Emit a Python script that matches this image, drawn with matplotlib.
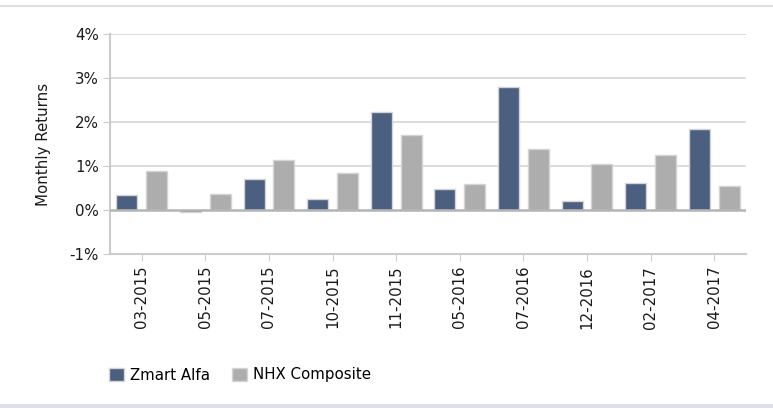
"""Monthly returns: Zmart Alfa vs NHX Composite"""

import matplotlib.pyplot as plt
import numpy as np

plt.rcParams["font.family"] = ["DejaVu Sans"]

months = ["03-2015", "05-2015", "07-2015", "10-2015", "11-2015",
          "05-2016", "07-2016", "12-2016", "02-2017", "04-2017"]
zmart = [0.33, -0.04, 0.70, 0.24, 2.22, 0.48, 2.80, 0.21, 0.61, 1.83]
nhx = [0.89, 0.37, 1.13, 0.83, 1.71, 0.58, 1.38, 1.04, 1.26, 0.55]

blue = "#4b5f80"
grey = "#adadad"
edge = "#d4d4d4"

fig = plt.figure(figsize=(7.73, 4.08), dpi=100)
ax = fig.add_axes([110 / 773, 1 - 254 / 408, 636 / 773, 220 / 408])

x = np.arange(len(months))
w = 0.33
ax.bar(x - 0.235, zmart, w, color=blue, edgecolor=edge, linewidth=1, label="Zmart Alfa", zorder=3)
ax.bar(x + 0.235, nhx, w, color=grey, edgecolor=edge, linewidth=1, label="NHX Composite", zorder=3)

ax.set_xlim(-0.5, len(months) - 0.5)
ax.set_ylim(-1, 4)
ax.set_yticks([-1, 0, 1, 2, 3, 4])
ax.set_yticklabels(["-1%", "0%", "1%", "2%", "3%", "4%"])
ax.set_xticks(x)
ax.set_xticklabels(months, rotation=90)

for v in [1, 2, 3, 4]:
    ax.axhline(v, color="#d6d6d6", linewidth=1.2, zorder=1)
ax.axhline(0, color="#b4b4b4", linewidth=1.8, zorder=4)

for s in ["top", "right"]:
    ax.spines[s].set_visible(False)
for s in ["left", "bottom"]:
    ax.spines[s].set_color("#cccccc")
    ax.spines[s].set_linewidth(1.5)

ax.tick_params(axis="both", colors="#cccccc", labelcolor="#1a1a1a", labelsize=10.8, length=5)
ax.tick_params(axis="y", pad=3)
ax.set_ylabel("Monthly Returns", fontsize=10.8, color="#1a1a1a", labelpad=13)

# borders of the panel
fig.add_artist(plt.Line2D([0, 1], [1 - 6 / 408] * 2, color="#dde1e6", linewidth=1.5))
fig.add_artist(plt.Line2D([0, 1], [1 - 406 / 408] * 2, color="#dde1e6", linewidth=3))

fig.legend(loc="upper left", bbox_to_anchor=(95 / 773, 1 - 354 / 408), ncol=2,
           frameon=False, fontsize=10.8, handlelength=1.0, handleheight=1.0,
           columnspacing=1.5, handletextpad=0.4)

plt.savefig("out.png", dpi=100)
